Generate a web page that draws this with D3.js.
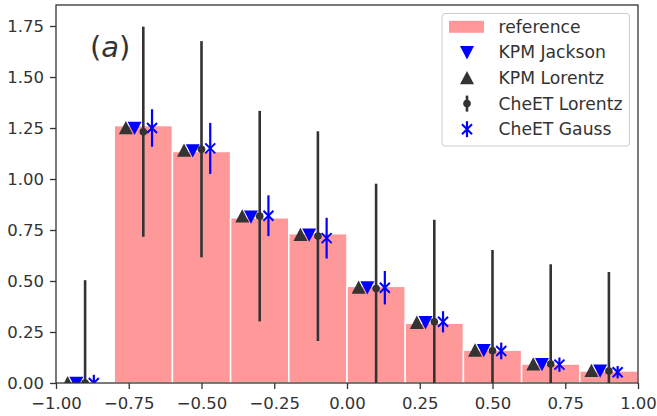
<!DOCTYPE html>
<html>
<head>
<meta charset="utf-8">
<script src="https://cdn.jsdelivr.net/npm/d3@7"></script>
<style>
  body { margin: 0; background: #fff; }
  svg { display: block; font-family: 'DejaVu Sans', sans-serif; }
</style>
</head>
<body>
<div id="chart"></div>
<script>
// bin centres of the histogram (width 0.2)
const binCenters = [-0.9, -0.7, -0.5, -0.3, -0.1, 0.1, 0.3, 0.5, 0.7, 0.9];
const binWidth = 0.2;

const reference = [0, 1.262, 1.135, 0.81, 0.732, 0.474, 0.293, 0.161, 0.093, 0.059];
const kpmJackson = [0, 1.25, 1.14, 0.815, 0.727, 0.468, 0.297, 0.16, 0.092, 0.06];
const kpmLorentz = [0, 1.25, 1.14, 0.818, 0.727, 0.468, 0.296, 0.16, 0.092, 0.06];
const cheetLorentz = [0, 1.232, 1.146, 0.818, 0.72, 0.463, 0.30, 0.158, 0.093, 0.059];
const cheetLorentzErr = [0.504, 0.515, 0.53, 0.516, 0.514, 0.514, 0.50, 0.494, 0.489, 0.485];
const cheetGauss = [0, 1.25, 1.15, 0.82, 0.71, 0.467, 0.30, 0.157, 0.09, 0.053];
const cheetGaussErr = [0.04, 0.092, 0.125, 0.1, 0.1, 0.082, 0.052, 0.041, 0.035, 0.03];

const xTicks = [-1, -0.75, -0.5, -0.25, 0, 0.25, 0.5, 0.75, 1];
const yTicks = [0, 0.25, 0.5, 0.75, 1, 1.25, 1.5, 1.75];

const legendLabels = ['reference', 'KPM Jackson', 'KPM Lorentz', 'CheET Lorentz', 'CheET Gauss'];

const W = 657, H = 416;
const margin = { top: 5, right: 19, bottom: 33, left: 56 };
const width = W - margin.left - margin.right;
const height = H - margin.top - margin.bottom;

const ink = '#333333';
const blue = '#0000ff';
const pink = '#ff9999';

const svg = d3.select('#chart').append('svg')
  .attr('width', W)
  .attr('height', H);

const g = svg.append('g').attr('transform', `translate(${margin.left},${margin.top})`);

const x = d3.scaleLinear().domain([-1, 1]).range([0, width]);
const y = d3.scaleLinear().domain([0, 1.853]).range([height, 0]);

svg.append('defs').append('clipPath').attr('id', 'plot-clip')
  .append('rect').attr('width', width).attr('height', height);

const plot = g.append('g').attr('clip-path', 'url(#plot-clip)');

// histogram bars
plot.selectAll('.bar')
  .data(binCenters)
  .enter()
  .append('rect')
  .attr('class', 'bar')
  .attr('x', d => x(d - binWidth / 2))
  .attr('width', x(binWidth) - x(0))
  .attr('y', (d, i) => y(reference[i]))
  .attr('height', (d, i) => height - y(reference[i]))
  .attr('fill', pink)
  .attr('stroke', '#fff')
  .attr('stroke-width', 1.5);

const triSize = 7;
const upPath = `M0,${-triSize} L${triSize},${triSize * 0.9} L${-triSize},${triSize * 0.9} Z`;
const downPath = `M0,${triSize} L${triSize},${-triSize * 0.9} L${-triSize},${-triSize * 0.9} Z`;
const crossPath = 'M-5,-5 L5,5 M-5,5 L5,-5';

// KPM Lorentz (up triangles)
plot.selectAll('.kpm-lor')
  .data(binCenters)
  .enter()
  .append('path')
  .attr('class', 'kpm-lor')
  .attr('transform', (d, i) => `translate(${x(d - 0.06)},${y(kpmLorentz[i])})`)
  .attr('d', upPath)
  .attr('fill', ink);

// KPM Jackson (down triangles)
plot.selectAll('.kpm-jack')
  .data(binCenters)
  .enter()
  .append('path')
  .attr('class', 'kpm-jack')
  .attr('transform', (d, i) => `translate(${x(d - 0.03)},${y(kpmJackson[i])})`)
  .attr('d', downPath)
  .attr('fill', blue);

// CheET Lorentz error bars + dots
plot.selectAll('.cl-err')
  .data(binCenters)
  .enter()
  .append('line')
  .attr('class', 'cl-err')
  .attr('x1', d => x(d)).attr('x2', d => x(d))
  .attr('y1', (d, i) => y(cheetLorentz[i] - cheetLorentzErr[i]))
  .attr('y2', (d, i) => y(cheetLorentz[i] + cheetLorentzErr[i]))
  .attr('stroke', ink)
  .attr('stroke-width', 2.6);

plot.selectAll('.cl-dot')
  .data(binCenters)
  .enter()
  .append('circle')
  .attr('class', 'cl-dot')
  .attr('cx', d => x(d))
  .attr('cy', (d, i) => y(cheetLorentz[i]))
  .attr('r', 3.8)
  .attr('fill', ink);

// CheET Gauss error bars + x markers
plot.selectAll('.cg-err')
  .data(binCenters)
  .enter()
  .append('line')
  .attr('class', 'cg-err')
  .attr('x1', d => x(d + 0.03)).attr('x2', d => x(d + 0.03))
  .attr('y1', (d, i) => y(cheetGauss[i] - cheetGaussErr[i]))
  .attr('y2', (d, i) => y(cheetGauss[i] + cheetGaussErr[i]))
  .attr('stroke', blue)
  .attr('stroke-width', 2.2);

plot.selectAll('.cg-mark')
  .data(binCenters)
  .enter()
  .append('path')
  .attr('class', 'cg-mark')
  .attr('transform', (d, i) => `translate(${x(d + 0.03)},${y(cheetGauss[i])})`)
  .attr('d', crossPath)
  .attr('stroke', blue)
  .attr('stroke-width', 2)
  .attr('fill', 'none');

// axes
const xAxis = g.append('g')
  .attr('transform', `translate(0,${height})`)
  .call(d3.axisBottom(x).tickValues(xTicks).tickFormat(d3.format('.2f')).tickSize(6).tickPadding(8));

const yAxis = g.append('g')
  .call(d3.axisLeft(y).tickValues(yTicks).tickFormat(d3.format('.2f')).tickSize(6).tickPadding(6));

[xAxis, yAxis].forEach(ax => {
  ax.select('.domain').remove();
  ax.selectAll('line').attr('stroke', ink).attr('stroke-width', 1.3);
  ax.selectAll('text').attr('fill', ink).style('font-size', '16.5px').style('font-family', 'DejaVu Sans');
});

// frame
g.append('rect')
  .attr('width', width).attr('height', height)
  .attr('fill', 'none')
  .attr('stroke', ink)
  .attr('stroke-width', 1.3);

// panel label
const lab = g.append('text')
  .attr('x', 34).attr('y', 52)
  .attr('fill', ink)
  .style('font-size', '29px');
lab.append('tspan').text('(');
lab.append('tspan').style('font-style', 'italic').text('a');
lab.append('tspan').text(')');

// legend
const leg = svg.append('g').attr('transform', 'translate(442,13.5)');
leg.append('rect')
  .attr('width', 187.5).attr('height', 132.5)
  .attr('rx', 3)
  .attr('fill', '#fff')
  .attr('stroke', '#cccccc')
  .attr('stroke-width', 1);

const rowY = i => 13.3 + i * 25.6;
const hx = 25;

leg.append('rect')
  .attr('x', 7).attr('y', rowY(0) - 6)
  .attr('width', 35).attr('height', 12)
  .attr('fill', pink);

leg.append('path')
  .attr('transform', `translate(${hx},${rowY(1)})`)
  .attr('d', downPath).attr('fill', blue);

leg.append('path')
  .attr('transform', `translate(${hx},${rowY(2)})`)
  .attr('d', upPath).attr('fill', ink);

leg.append('line')
  .attr('x1', hx).attr('x2', hx)
  .attr('y1', rowY(3) - 8).attr('y2', rowY(3) + 8)
  .attr('stroke', ink).attr('stroke-width', 2.6);
leg.append('circle')
  .attr('cx', hx).attr('cy', rowY(3)).attr('r', 3.8).attr('fill', ink);

leg.append('line')
  .attr('x1', hx).attr('x2', hx)
  .attr('y1', rowY(4) - 8).attr('y2', rowY(4) + 8)
  .attr('stroke', blue).attr('stroke-width', 2.2);
leg.append('path')
  .attr('transform', `translate(${hx},${rowY(4)})`)
  .attr('d', crossPath).attr('stroke', blue).attr('stroke-width', 2).attr('fill', 'none');

leg.selectAll('.leg-text')
  .data(legendLabels)
  .enter()
  .append('text')
  .attr('class', 'leg-text')
  .attr('x', 56.5)
  .attr('y', (d, i) => rowY(i))
  .attr('dy', '0.35em')
  .attr('fill', ink)
  .style('font-size', '17.2px')
  .text(d => d);
</script>
</body>
</html>
